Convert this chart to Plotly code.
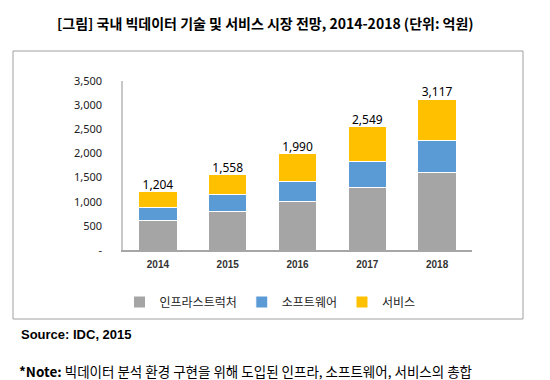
import plotly.graph_objects as go

years = ["2014", "2015", "2016", "2017", "2018"]
infra = [610, 800, 1005, 1300, 1595]
software = [262, 340, 415, 540, 665]
service = [332, 418, 570, 709, 857]
totals = [1204, 1558, 1990, 2549, 3117]
series_names = ["인프라스트럭처", "소프트웨어", "서비스"]
colors = ["#A5A5A5", "#5B9BD5", "#FFC000"]
ytick_vals = [0, 500, 1000, 1500, 2000, 2500, 3000, 3500]
ytick_text = ["-", "500", "1,000", "1,500", "2,000", "2,500", "3,000", "3,500"]

W, H = 550, 380
L, R, T, B = 115, 86, 73, 138
PW, PH = W - L - R, H - T - B
def px(x):
    return (x - L) / PW
def py(y):
    return (H - B - y) / PH

fig = go.Figure()
for name, vals, c in zip(series_names, [infra, software, service], colors):
    fig.add_trace(go.Bar(x=years, y=vals, name=name,
                         marker=dict(color=c, line=dict(color="white", width=1))))

fig.add_trace(go.Scatter(x=years, y=totals, mode="text", text=[f"{t:,}" for t in totals],
                         textposition="top center", showlegend=False,
                         textfont=dict(family="Noto Sans", size=12, color="#000")))

fig.update_layout(
    barmode="stack", bargap=0.45,
    width=W, height=H,
    margin=dict(l=L, r=R, t=T, b=B),
    paper_bgcolor="white", plot_bgcolor="white",
    legend=dict(orientation="h", x=px(262), y=py(294), xanchor="center", yanchor="middle",
                traceorder="normal", itemwidth=30,
                font=dict(family="Noto Sans CJK KR", size=12, color="#222")),
    xaxis=dict(type="category", showline=True, linecolor="#A6A6A6", linewidth=1.5,
               tickvals=years, ticktext=[f"<b>{y}</b>" for y in years],
               ticks="outside", ticklen=4, tickcolor="rgba(0,0,0,0)",
               tickfont=dict(family="Liberation Sans", size=10, color="#333")),
    yaxis=dict(range=[0, 3500], tickvals=ytick_vals, ticktext=ytick_text,
               showgrid=False, showline=True, linecolor="#C8C8C8", linewidth=1.5,
               ticks="outside", ticklen=17, tickcolor="rgba(0,0,0,0)", zeroline=False,
               tickfont=dict(family="Noto Sans", size=11, color="#222")),
)

fig.add_shape(type="rect", xref="paper", yref="paper", x0=px(5), x1=px(515), y0=py(311), y1=py(43),
              line=dict(color="#A0A0A0", width=1), fillcolor="rgba(0,0,0,0)", layer="below")

fig.add_annotation(xref="paper", yref="paper", x=px(257), y=py(15), text="<b>[그림] 국내 빅데이터 기술 및 서비스 시장 전망, 2014-2018 (단위: 억원)</b>",
                   showarrow=False, xanchor="center", yanchor="middle",
                   font=dict(family="Noto Sans CJK KR", size=14, color="#000"))
fig.add_annotation(xref="paper", yref="paper", x=px(11), y=py(326), text="<b>Source: IDC, 2015</b>",
                   showarrow=False, xanchor="left", yanchor="middle",
                   font=dict(family="Liberation Sans", size=13, color="#000"))
fig.add_annotation(xref="paper", yref="paper", x=px(9), y=py(363),
                   text="<b>*Note:</b> 빅데이터 분석 환경 구현을 위해 도입된 인프라, 소프트웨어, 서비스의 총합",
                   showarrow=False, xanchor="left", yanchor="middle",
                   font=dict(family="Noto Sans CJK KR", size=13.5, color="#000"))

fig.write_html("out.html")
